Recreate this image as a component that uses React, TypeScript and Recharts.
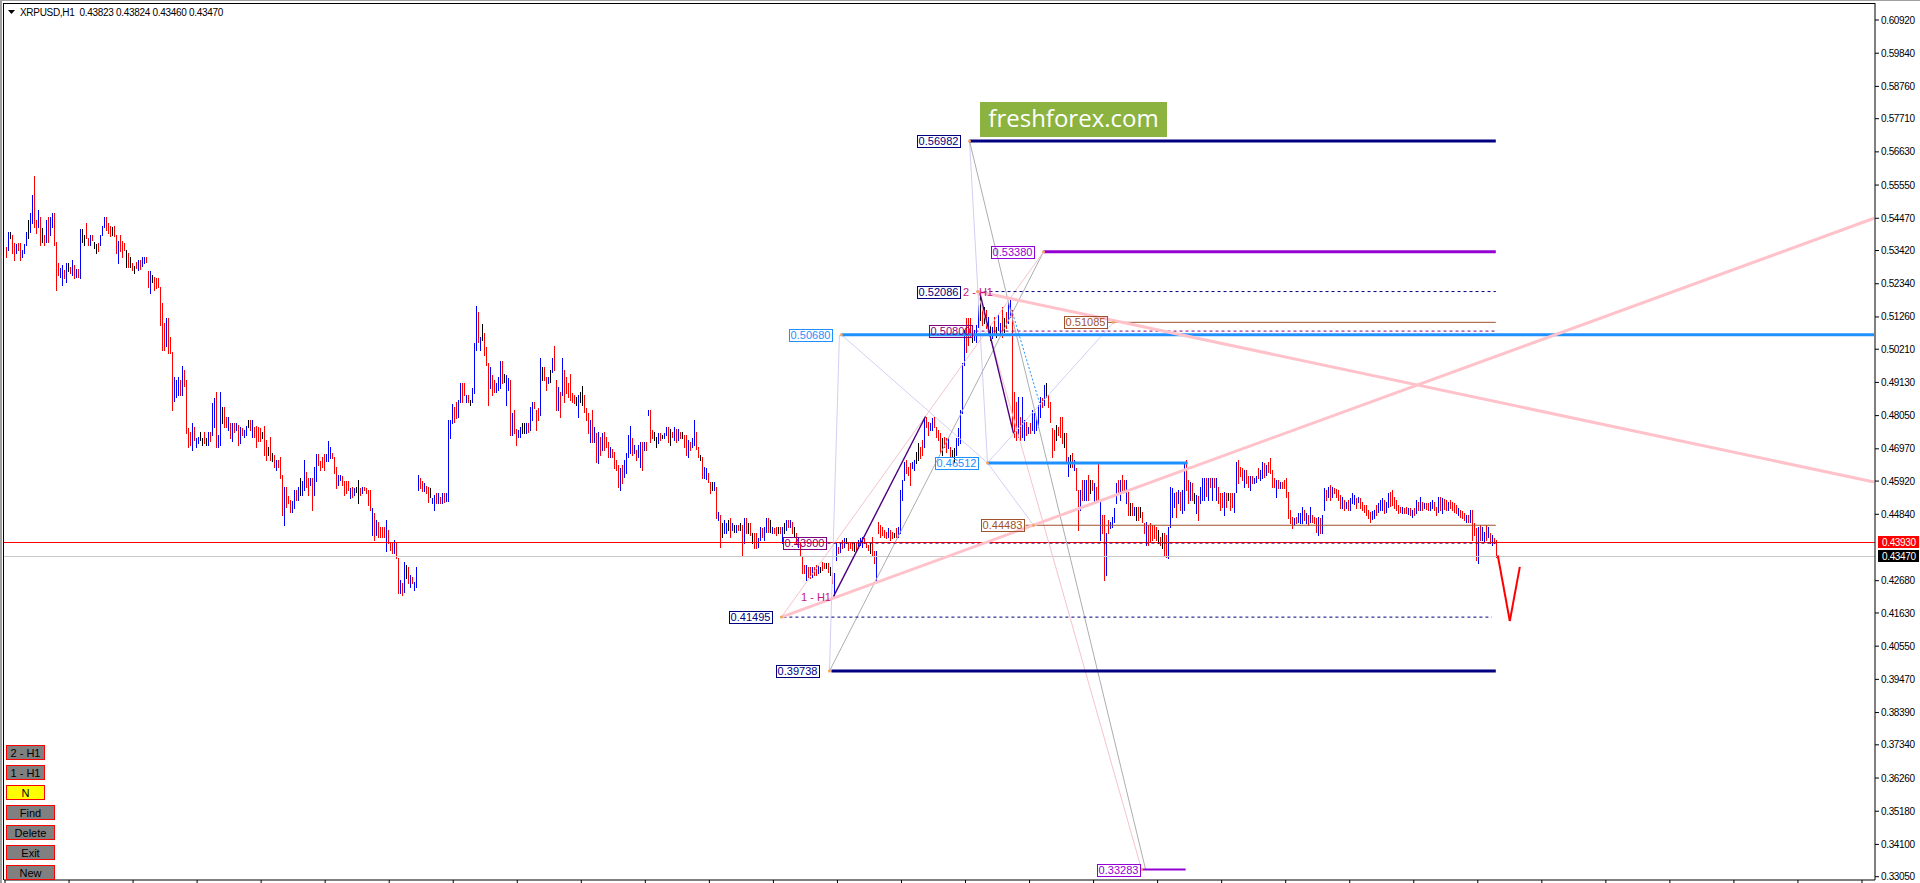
import React from "react";
import { ComposedChart, Bar, XAxis, YAxis, ReferenceLine, ReferenceDot } from "recharts";

// ---------- price bars (H1) ----------
const highs = [
.5353,.5403,.5403,.5393,.5366,.5364,.5366,.5366,.5344,.5364,
.5403,.5441,.5463,.5523,.5583,.5441,.5474,.5450,.5414,.5393,
.5441,.5450,.5450,.5463,.5463,.5371,.5301,.5285,.5295,.5279,
.5301,.5301,.5290,.5311,.5295,.5281,.5281,.5411,.5411,.5393,
.5431,.5382,.5393,.5393,.5371,.5364,.5366,.5393,.5422,.5450,
.5450,.5433,.5422,.5420,.5422,.5393,.5373,.5393,.5373,.5366,
.5344,.5333,.5322,.5301,.5292,.5306,.5311,.5311,.5320,.5320,
.5320,.5274,.5274,.5263,.5257,.5252,.5252,.5225,.5171,.5106,
.5122,.5122,.5062,.5013,.4932,.4921,.4932,.4921,.4965,.4954,
.4921,.4764,.4753,.4780,.4769,.4731,.4737,.4753,.4731,.4753,
.4731,.4753,.4753,.4845,.4862,.4883,.4742,.4883,.4834,.4834,
.4802,.4802,.4780,.4780,.4780,.4780,.4775,.4769,.4764,.4759,
.4772,.4791,.4791,.4791,.4769,.4772,.4769,.4764,.4753,.4772,
.4726,.4704,.4734,.4683,.4677,.4661,.4661,.4672,.4612,.4574,
.4574,.4542,.4531,.4526,.4563,.4563,.4574,.4601,.4591,.4661,
.4623,.4601,.4601,.4601,.4639,.4681,.4681,.4656,.4672,.4681,
.4681,.4723,.4704,.4683,.4672,.4639,.4612,.4612,.4607,.4591,
.4591,.4591,.4569,.4574,.4569,.4574,.4594,.4569,.4574,.4574,
.4569,.4563,.4563,.4504,.4487,.4466,.4460,.4444,.4444,.4444,
.4466,.4433,.4395,.4390,.4401,.4395,.4341,.4270,.4259,.4330,
.4319,.4314,.4286,.4281,.4265,.4314,.4612,.4601,
.4592,.4585,.4576,.4574,.4568,.4536,.4547,.4552,.4552,.4541,
.4552,.4552,.4552,.4791,.4791,.4843,.4834,.4850,.4856,.4910,
.4910,.4910,.4872,.4872,.4856,.4894,.5040,.5162,.5143,.5062,
.5103,.5073,.5029,.4975,.4964,.4937,.4921,.4910,.4932,.4984,
.4984,.4942,.4937,.4926,.4921,.4812,.4823,.4763,.4758,.4769,
.4780,.4780,.4780,.4780,.4834,.4850,.4850,.4823,.4829,.4991,
.4964,.4964,.4932,.4932,.4953,.4991,.5031,.4921,.4899,.4883,
.4991,.4953,.4932,.4910,.4939,.4877,.4872,.4867,.4872,.4883,
.4901,.4872,.4829,.4812,.4791,.4823,.4769,.4747,.4753,.4736,
.4747,.4753,.4736,.4720,.4704,.4698,.4688,.4660,.4644,.4633,
.4644,.4660,.4682,.4742,.4771,.4731,.4709,.4693,.4709,.4720,
.4720,.4720,.4720,.4823,.4823,.4758,.4753,.4736,.4747,.4747,
.4742,.4747,.4769,.4769,.4763,.4753,.4769,.4763,.4763,.4753,
.4753,.4742,.4742,.4726,.4720,.4731,.4791,.4753,.4704,.4677,
.4671,.4639,.4633,.4617,.4590,.4590,.4590,.4574,.4493,.4482,
.4455,.4465,.4455,.4465,.4471,.4455,.4449,.4449,.4449,.4455,
.4449,.4471,.4471,.4455,.4455,.4422,.4422,.4422,.4406,.4444,
.4438,.4444,.4471,.4471,.4465,.4444,.4438,.4444,.4444,.4444,
.4444,.4455,.4465,.4465,.4465,.4460,.4444,.4422,.4411,.4390,
.4346,.4319,.4319,.4314,.4314,.4314,.4314,.4319,.4319,.4314,
.4330,.4327,.4325,.4325,.4314,.4297,.4292,.4390,.4379,.4390,
.4401,.4406,.4406,.4395,.4395,.4395,.4390,.4395,.4401,.4406,
.4411,.4406,.4395,.4384,.4390,.4411,.4363,.4363,.4460,.4449,
.4444,.4433,.4428,.4439,.4433,.4428,.4422,.4439,.4444,.4563,
.4596,.4655,.4661,.4639,.4650,.4655,.4661,.4688,.4715,.4704,
.4726,.4796,.4802,.4785,.4780,.4796,.4802,.4769,.4758,.4748,
.4731,.4737,.4731,.4731,.4704,.4693,.4699,.4731,.4764,.4823,
.4975,.5084,.5122,.5122,.5122,.5089,.5084,.5100,.5165,.5209,
.5154,.5159,.5149,.5127,.5100,.5094,.5127,.5094,.5132,.5105,
.5159,.5122,.5143,.5170,.5181,.5149,.4883,.4850,.4867,.4802,
.4867,.4791,.4785,.4769,.4780,.4823,.4812,.4802,.4840,.4867,
.4861,.4905,.4910,.4872,.4850,.4764,.4758,.4775,.4769,.4802,
.4802,.4748,.4748,.4672,.4677,.4682,.4661,.4634,.4563,.4563,
.4596,.4596,.4596,.4612,.4596,.4596,.4585,.4574,.4655,.4531,
.4482,.4482,.4422,.4466,.4460,.4476,.4504,.4585,.4596,.4596,
.4612,.4596,.4596,.4558,.4520,.4520,.4509,.4509,.4509,.4509,
.4493,.4455,.4460,.4449,.4455,.4449,.4449,.4444,.4433,.4411,
.4422,.4422,.4417,.4444,.4574,.4569,.4553,.4558,.4563,.4558,
.4563,.4655,.4661,.4596,.4590,.4585,.4553,.4547,.4542,.4574,
.4601,.4601,.4601,.4601,.4601,.4601,.4601,.4601,.4574,.4553,
.4553,.4558,.4553,.4553,.4553,.4553,.4553,.4655,.4661,.4639,
.4634,.4628,.4628,.4607,.4607,.4607,.4601,.4607,.4634,.4628,
.4655,.4650,.4644,.4655,.4666,.4628,.4601,.4596,.4596,.4590,
.4590,.4596,.4601,.4558,.4498,.4476,.4471,.4476,.4487,.4487,
.4509,.4498,.4487,.4482,.4509,.4482,.4476,.4471,.4476,.4471,
.4482,.4569,.4563,.4574,.4579,.4574,.4569,.4566,.4563,.4547,
.4541,.4530,.4525,.4530,.4536,.4552,.4548,.4536,.4541,.4536,
.4525,.4514,.4514,.4498,.4493,.4495,.4498,.4514,.4520,.4530,
.4536,.4530,.4525,.4552,.4556,.4563,.4541,.4530,.4514,.4509,
.4509,.4504,.4509,.4506,.4504,.4498,.4504,.4530,.4525,.4541,
.4525,.4520,.4522,.4520,.4525,.4530,.4525,.4509,.4541,.4541,
.4536,.4533,.4530,.4525,.4530,.4525,.4520,.4514,.4504,.4498,
.4495,.4487,.4482,.4482,.4498,.4498,.4455,.4439,.4444,.4449,
.4444,.4428,.4449,.4444,.4422,.4417,.4406,.4401,
];

const lows = [
.5320,.5344,.5382,.5333,.5311,.5333,.5344,.5311,.5320,.5333,
.5360,.5382,.5403,.5431,.5420,.5400,.5420,.5360,.5371,.5360,
.5371,.5371,.5393,.5420,.5360,.5214,.5263,.5257,.5230,.5252,
.5241,.5274,.5268,.5263,.5252,.5255,.5257,.5252,.5371,.5360,
.5382,.5360,.5360,.5376,.5349,.5333,.5342,.5360,.5393,.5420,
.5409,.5398,.5389,.5393,.5389,.5333,.5301,.5339,.5322,.5344,
.5290,.5290,.5290,.5279,.5270,.5285,.5279,.5281,.5292,.5301,
.5306,.5225,.5203,.5241,.5214,.5219,.5225,.5100,.5019,.5019,
.5030,.5008,.5008,.4824,.4851,.4867,.4872,.4872,.4872,.4900,
.4748,.4704,.4710,.4694,.4726,.4704,.4715,.4726,.4710,.4715,
.4710,.4710,.4721,.4742,.4769,.4704,.4704,.4710,.4780,.4769,
.4769,.4759,.4731,.4721,.4753,.4759,.4710,.4715,.4742,.4737,
.4742,.4769,.4759,.4737,.4737,.4702,.4721,.4721,.4731,.4677,
.4661,.4677,.4661,.4656,.4639,.4629,.4639,.4601,.4482,.4450,
.4509,.4520,.4493,.4493,.4504,.4531,.4531,.4547,.4547,.4563,
.4574,.4547,.4580,.4498,.4547,.4591,.4645,.4629,.4639,.4629,
.4656,.4656,.4667,.4667,.4618,.4569,.4580,.4596,.4580,.4547,
.4553,.4563,.4536,.4540,.4547,.4558,.4520,.4547,.4553,.4563,
.4553,.4515,.4498,.4417,.4401,.4417,.4411,.4411,.4411,.4411,
.4363,.4390,.4368,.4357,.4357,.4341,.4227,.4227,.4221,.4232,
.4276,.4259,.4249,.4259,.4238,.4249,.4563,.4569,
.4561,.4561,.4552,.4525,.4541,.4520,.4498,.4520,.4522,.4520,
.4522,.4525,.4528,.4528,.4731,.4780,.4785,.4796,.4799,.4850,
.4850,.4872,.4850,.4850,.4839,.4850,.4877,.5018,.5046,.5018,
.5051,.5002,.4970,.4839,.4894,.4872,.4883,.4883,.4888,.4894,
.4910,.4915,.4839,.4888,.4742,.4742,.4747,.4709,.4736,.4736,
.4747,.4747,.4749,.4753,.4758,.4791,.4829,.4758,.4791,.4807,
.4921,.4921,.4888,.4910,.4915,.4948,.4953,.4823,.4823,.4801,
.4872,.4850,.4877,.4867,.4856,.4850,.4845,.4839,.4799,.4850,
.4839,.4818,.4791,.4747,.4720,.4720,.4720,.4655,.4650,.4677,
.4693,.4693,.4704,.4671,.4671,.4671,.4633,.4628,.4574,.4563,
.4585,.4606,.4617,.4671,.4682,.4677,.4682,.4660,.4671,.4639,
.4628,.4693,.4693,.4807,.4720,.4731,.4726,.4704,.4715,.4726,
.4731,.4731,.4742,.4720,.4709,.4736,.4726,.4720,.4726,.4731,
.4731,.4704,.4677,.4671,.4693,.4704,.4709,.4698,.4671,.4660,
.4601,.4601,.4598,.4590,.4552,.4563,.4563,.4471,.4465,.4379,
.4411,.4422,.4422,.4433,.4411,.4433,.4427,.4427,.4433,.4433,
.4352,.4390,.4422,.4422,.4417,.4390,.4373,.4373,.4379,.4400,
.4411,.4400,.4427,.4427,.4427,.4422,.4422,.4417,.4422,.4422,
.4390,.4422,.4433,.4444,.4444,.4422,.4411,.4390,.4379,.4352,
.4292,.4292,.4270,.4281,.4276,.4281,.4287,.4287,.4292,.4297,
.4303,.4308,.4308,.4297,.4287,.4259,.4216,.4335,.4357,.4362,
.4374,.4379,.4390,.4368,.4374,.4368,.4363,.4368,.4374,.4384,
.4379,.4390,.4379,.4368,.4357,.4352,.4325,.4271,.4422,.4411,
.4417,.4411,.4406,.4411,.4401,.4406,.4411,.4411,.4411,.4422,
.4531,.4596,.4617,.4612,.4580,.4634,.4628,.4650,.4661,.4666,
.4677,.4704,.4769,.4742,.4758,.4758,.4769,.4737,.4726,.4688,
.4677,.4704,.4688,.4699,.4672,.4672,.4655,.4677,.4710,.4715,
.4812,.4970,.5013,.5035,.5062,.5046,.5051,.5046,.5094,.5116,
.5100,.5105,.5089,.5073,.5051,.5057,.5067,.5062,.5084,.5067,
.5062,.5078,.5089,.5105,.5127,.4769,.4737,.4726,.4737,.4726,
.4737,.4726,.4742,.4748,.4748,.4758,.4748,.4758,.4769,.4802,
.4834,.4840,.4867,.4834,.4785,.4672,.4693,.4726,.4742,.4737,
.4715,.4704,.4650,.4607,.4639,.4639,.4628,.4563,.4433,.4498,
.4531,.4531,.4531,.4531,.4553,.4563,.4525,.4531,.4531,.4401,
.4422,.4271,.4287,.4422,.4439,.4444,.4460,.4520,.4558,.4531,
.4558,.4558,.4520,.4482,.4482,.4482,.4482,.4466,.4466,.4476,
.4460,.4422,.4384,.4384,.4395,.4401,.4406,.4401,.4390,.4384,
.4374,.4352,.4346,.4341,.4444,.4476,.4509,.4476,.4520,.4498,
.4487,.4498,.4563,.4520,.4531,.4531,.4520,.4487,.4466,.4520,
.4531,.4531,.4542,.4531,.4574,.4531,.4574,.4531,.4520,.4498,
.4509,.4482,.4509,.4531,.4498,.4509,.4493,.4558,.4585,.4607,
.4596,.4574,.4585,.4574,.4563,.4585,.4585,.4590,.4601,.4596,
.4601,.4606,.4612,.4623,.4617,.4574,.4574,.4541,.4569,.4569,
.4569,.4569,.4541,.4471,.4455,.4439,.4449,.4455,.4460,.4455,
.4455,.4466,.4455,.4449,.4460,.4460,.4455,.4428,.4417,.4422,
.4422,.4498,.4530,.4541,.4530,.4541,.4552,.4540,.4530,.4504,
.4504,.4498,.4504,.4498,.4498,.4520,.4518,.4504,.4525,.4504,
.4498,.4493,.4482,.4471,.4460,.4470,.4471,.4482,.4493,.4498,
.4498,.4487,.4493,.4509,.4512,.4514,.4504,.4498,.4487,.4493,
.4487,.4487,.4487,.4485,.4482,.4476,.4482,.4487,.4498,.4498,
.4498,.4504,.4500,.4498,.4498,.4504,.4498,.4482,.4493,.4498,
.4487,.4500,.4498,.4498,.4504,.4498,.4493,.4487,.4482,.4476,
.4472,.4466,.4460,.4460,.4460,.4401,.4417,.4336,.4325,.4401,
.4401,.4395,.4401,.4411,.4390,.4384,.4390,.4346,
];

// b = up bar (blue), r = down bar (red), k = unchanged (black)
const barDirs = [
"rbkrrbrrbb","bkbbrrbrkr","brbbrrrbbr","bkrbrbrbkk","rrbrkkrbbb","rrrkrrbrrr","krkrkrbrbb",
"rrbkrrrrrr","brrrbbbrbr","rrrbrbbkkr","kbrbbrbbkr","rbrbrbrbrb","bkrbrrrrkr","rkrkrbrrrb",
"rrrbbrbkbb","rrbrbbrrrr","bbbrrrbbrr","rrbrbkkrbr","rrrbrbrrrr","brrrbrrbrb","krbrbbbr",
"rbrrkbbrbr","brbbbbrrbb","rrbrkbbbrb","krrrbrrbbb","rkbbrbrrbb","kkbrbbrrrb","krrbkbrrbr",
"brrrrrrkbk","krrrbrbrbr","brrrbrrrrb","rbbbbrbrbb","rbrbrrkkbr","kbbrkrbrbr","krrbrbbrrk",
"rbbrrkbrbr","kbbkrbkbrk","rbrkrkrrbb","rbbrkbrrkr","bkbrbrkrbr","rrbrrbrrbk","rrkrkrbbrb",
"rbkrrrkrbb","brrrkrrbrr","rrrbrrkrbb","bbrrrbbkkr","rbrrbbrrrr","krrbrkkbbb","bbrrrkbbbk",
"rkrbkbrkbb","rkrbbrrrbr","bbrbrbbbbb","rbkrrrrkrr","rkrbkrbrrb","rbbrkrbrrb","rrbrbbbbrb",
"rrbrkrbkrk","rrbrrrrrkr","krrbbbbrbr","bbrrbrkbrb","bbrbrbrbrr","rbrkrrbbrr","rbrrbrbbrb",
"brbrrrrbrb","rrrrrrbrbb","brbrbrrrbr","bbrbrbrrrr","brbrbbbrbr","rrrrrbbrbb","brbbrrrrrr",
"brrbrbrbrb","rbrrbbrrbr","brrbrrrrbr","rrbrbrrrbr","bbrbrbrr",
].join("");

const SLOT_COUNT = 935; // bar slots from the left edge to the price scale

// ---------- axes ----------
const priceTicks = [0.6092, 0.5984, 0.5876, 0.5771, 0.5663, 0.5555, 0.5447, 0.5342, 0.5234, 0.5126,
  0.5021, 0.4913, 0.4805, 0.4697, 0.4592, 0.4484, 0.4268, 0.4163, 0.4055, 0.3947, 0.3839,
  0.3734, 0.3626, 0.3518, 0.341, 0.3305];
const timeTickSlots = [0, 32, 64, 96, 128, 160, 192, 224, 256, 288, 320, 352, 384, 416, 448, 480,
  512, 544, 576, 608, 640, 672, 704, 736, 768, 800, 832, 864, 896, 928];
const priceDomain = [0.32943, 0.61473];
const markerPrice = 0.4393;
const bidPrice = 0.4347;

// ---------- drawn objects ----------
const levelPrices = [0.56982, 0.5338, 0.52086, 0.51085, 0.508, 0.5068, 0.46512, 0.44483, 0.439, 0.41495, 0.39738, 0.33283];
const levelStart = [482, 519, 486, 551, 485, 418, 491, 510, 411, 389, 413, 568];
const levelEnd = [745, 745, 745, 745, 745, 934, 591, 745, 745, 743, 745, 590];

const thinFrom = [[417, 0.5068], [418, 0.5068], [491, 0.46512], [482, 0.56982], [491, 0.46512],
  [482, 0.56982], [412, 0.39738], [388, 0.41495], [486, 0.52086], [414, 0.4216], [487, 0.5209], [503, 0.515]];
const thinTo = [[412, 0.39738], [491, 0.46512], [554, 0.51085], [491, 0.46512], [514, 0.44483],
  [570, 0.33283], [519, 0.5338], [519, 0.5338], [568, 0.33283], [460, 0.4802], [504, 0.4747], [517, 0.4846]];

const trendFrom = [[388, 0.41495], [486, 0.52086]];
const trendTo = [[934, 0.5447], [934, 0.4589]];

const projection = [[746, 0.435], [752, 0.4137], [757, 0.4313]];

const pivots = [[482, 0.56982], [519, 0.5338], [554, 0.51085], [418, 0.5068], [491, 0.46512],
  [412, 0.39738], [388, 0.41495], [514, 0.44483], [486, 0.52086], [568, 0.33283]];

// wave marks: text, anchor slot, anchor price
const waveText = ["1 - H1", "2 - H1"];
const waveAt = [[414, 0.4216], [486, 0.52086]];

const buttonLabels = ["2 - H1", "1 - H1", "N", "Find", "Delete", "Exit", "New"];

// ---------- styles ----------
const FONT = "'Liberation Sans', Arial, sans-serif";
const BAR_COLOR: Record<string, string> = { b: "#0000FF", r: "#FF0000", k: "#000000" };
const levelLook = [
  { color: "#000080", width: 3, gap: 10 },
  { color: "#9400D3", width: 3, gap: 10 },
  { color: "#000080", width: 1, dash: "3 3", gap: 18 },
  { color: "#A0522D", width: 1, gap: 1 },
  { color: "#800080", width: 1, dash: "3 3", gap: 4 },
  { color: "#1E90FF", width: 3, gap: 9 },
  { color: "#1E90FF", width: 3, gap: 10 },
  { color: "#A0522D", width: 1, gap: 2 },
  { color: "#800080", line: "#3A1070", width: 1, dash: "3 3", gap: 1 },
  { color: "#000080", width: 1, dash: "3 3", gap: 11 },
  { color: "#000080", width: 3, gap: 12 },
  { color: "#9400D3", width: 2, gap: 2 },
];
// wave text placement: [anchor, dx]
const waveLook = [{ anchor: "end", dx: -2 }, { anchor: "start", dx: -15 }];
const thinLook = [
  { c: "#D4CEF4", w: 1 }, { c: "#D4CEF4", w: 1 }, { c: "#D4CEF4", w: 1 }, { c: "#D4CEF4", w: 1 }, { c: "#D4CEF4", w: 1 },
  { c: "#ADADAD", w: 1 }, { c: "#ADADAD", w: 1 },
  { c: "#F4C4CA", w: 1 }, { c: "#F4C4CA", w: 1 },
  { c: "#4B0082", w: 1.4 }, { c: "#4B0082", w: 1.4 },
  { c: "#1E90FF", w: 1, d: "2 2" },
];

const data = Array.from({ length: SLOT_COUNT }, (_, i) =>
  i < highs.length && i < lows.length
    ? { i, range: [lows[i], highs[i]], dir: barDirs[i] }
    : { i, range: null, dir: "" }
);

function Stick(props: any) {
  const { x, y, width, height, payload } = props;
  if (!payload || !payload.range || !isFinite(y) || !isFinite(height)) return null;
  const cx = Math.round(x + width / 2);
  const top = Math.round(Math.min(y, y + height));
  const bot = Math.round(Math.max(y, y + height));
  return <rect x={cx} y={top} width={1} height={Math.max(1, bot - top + 1)} fill={BAR_COLOR[payload.dir] || "#000"} shapeRendering="crispEdges" />;
}

const levelTag = (text: string, color: string, gap: number) => (p: any) => {
  if (!isFinite(p.cx) || !isFinite(p.cy)) return null;
  const right = Math.round(p.cx) - gap;
  const cy = Math.round(p.cy);
  return (
    <g>
      <rect x={right - 43 + 0.5} y={cy - 6 + 0.5} width={43} height={12} fill="none" stroke={color} strokeWidth={1} />
      <text x={right - 21.5} y={cy + 4} textAnchor="middle" fontFamily={FONT} fontSize={11} fill={color}>{text}</text>
    </g>
  );
};

const axisTag = (text: string, bg: string) => (p: any) => {
  if (!isFinite(p.cx) || !isFinite(p.cy)) return null;
  const x = Math.round(p.cx) + 4;
  const cy = Math.round(p.cy);
  return (
    <g>
      <rect x={x} y={cy - 6} width={41} height={12} fill={bg} />
      <text x={x + 4} y={cy + 4} fontFamily={FONT} fontSize={10} letterSpacing={-0.35} fill="#FFFFFF">{text}</text>
    </g>
  );
};

const waveLabel = (text: string, anchor: string, dx: number) => (p: any) => {
  if (!isFinite(p.cx) || !isFinite(p.cy)) return null;
  return (
    <text x={Math.round(p.cx) + dx} y={Math.round(p.cy) + 4} textAnchor={anchor} fontFamily={FONT} fontSize={11} fill="#C71585">{text}</text>
  );
};

export default function App() {
  return (
    <div style={{ position: "absolute", left: 0, top: 0, width: 1920, height: 883, background: "#fff", overflow: "hidden" }}>
      <ComposedChart width={1920} height={883} data={data} margin={{ top: 3, right: 0, bottom: 0, left: 4 }}>
        <XAxis dataKey="i" type="category" height={3} ticks={timeTickSlots} interval={0} tickSize={3}
          tickLine={{ stroke: "#000" }} axisLine={{ stroke: "#000" }} tickFormatter={() => ""} />
        <YAxis orientation="right" type="number" domain={priceDomain} allowDataOverflow ticks={priceTicks} interval={0}
          width={45} tickSize={4} tickMargin={2} axisLine={{ stroke: "#000" }} tickLine={{ stroke: "#000" }}
          tick={{ fill: "#000", fontSize: 10, fontFamily: FONT, letterSpacing: -0.35 }}
          tickFormatter={(v: number) => v.toFixed(5)} />

        <ReferenceLine y={bidPrice} stroke="#C8C8C8" strokeWidth={1} shapeRendering="crispEdges" />

        <Bar dataKey="range" barSize={1} isAnimationActive={false} shape={<Stick />} />

        <ReferenceLine y={markerPrice} stroke="#FF0000" strokeWidth={1} shapeRendering="crispEdges" />

        {thinFrom.map((a, k) => (
          <ReferenceLine key={"t" + k} ifOverflow="visible"
            segment={[{ x: a[0], y: a[1] }, { x: thinTo[k][0], y: thinTo[k][1] }]}
            stroke={thinLook[k].c} strokeWidth={thinLook[k].w} strokeDasharray={thinLook[k].d} />
        ))}

        {levelPrices.map((p, k) => (
          <ReferenceLine key={"l" + k} ifOverflow="visible"
            segment={[{ x: levelStart[k], y: p }, { x: levelEnd[k], y: p }]}
            stroke={levelLook[k].line || levelLook[k].color} strokeWidth={levelLook[k].width}
            strokeDasharray={levelLook[k].dash} />
        ))}

        {trendFrom.map((a, k) => (
          <ReferenceLine key={"p" + k} ifOverflow="visible"
            segment={[{ x: a[0], y: a[1] }, { x: trendTo[k][0], y: trendTo[k][1] }]}
            stroke="#FFC2CA" strokeWidth={3} />
        ))}

        {projection.slice(1).map((b, k) => (
          <ReferenceLine key={"v" + k} ifOverflow="visible"
            segment={[{ x: projection[k][0], y: projection[k][1] }, { x: b[0], y: b[1] }]}
            stroke="#FF0000" strokeWidth={2} />
        ))}

        {pivots.map((p, k) => (
          <ReferenceDot key={"d" + k} x={p[0]} y={p[1]} r={1.5} fill="#F4A460" stroke="none" ifOverflow="visible" />
        ))}

        {levelPrices.map((p, k) => (
          <ReferenceDot key={"g" + k} x={levelStart[k]} y={p} r={1} ifOverflow="visible"
            shape={levelTag(p.toFixed(5), levelLook[k].color, levelLook[k].gap)} />
        ))}

        {waveText.map((t, k) => (
          <ReferenceDot key={"w" + k} x={waveAt[k][0]} y={waveAt[k][1]} r={1} ifOverflow="visible"
            shape={waveLabel(t, waveLook[k].anchor, waveLook[k].dx)} />
        ))}

        <ReferenceDot x={SLOT_COUNT - 1} y={markerPrice} r={1} ifOverflow="visible" shape={axisTag("0.43930", "#FF0000")} />
        <ReferenceDot x={SLOT_COUNT - 1} y={bidPrice} r={1} ifOverflow="visible" shape={axisTag("0.43470", "#000000")} />
      </ComposedChart>

      <svg width={1920} height={883} style={{ position: "absolute", left: 0, top: 0, pointerEvents: "none" }}>
        <rect x={0} y={0} width={2} height={883} fill="#A0A0A0" />
        <rect x={0} y={0} width={1920} height={1} fill="#A0A0A0" />
        <rect x={3} y={3} width={1} height={877} fill="#000" />
        <rect x={3} y={3} width={1872} height={1} fill="#000" />
        <polygon points="8,10 15,10 11.5,14" fill="#000" />
        <text x={20} y={15.5} fontFamily={FONT} fontSize={10} letterSpacing={-0.3} fill="#000" style={{ whiteSpace: "pre" }}>
          {"XRPUSD,H1  0.43823 0.43824 0.43460 0.43470"}
        </text>
        <rect x={980} y={102} width={187} height={35} fill="#8CB33F" />
        <text x={1073.5} y={127} textAnchor="middle" fontFamily="'Open Sans', sans-serif" fontSize={24} fill="#FFFFFF">freshforex.com</text>
        {buttonLabels.map((b, k) => {
          const w = k < 3 ? 38 : 48;
          const y = 745 + k * 20;
          return (
            <g key={b}>
              <rect x={6.5} y={y + 0.5} width={w} height={14} fill={b === "N" ? "#FFFF00" : "#808080"} stroke="#FF0000" strokeWidth={1} />
              <text x={6.5 + w / 2} y={y + 12} textAnchor="middle" fontFamily={FONT} fontSize={11} fill="#000">{b}</text>
            </g>
          );
        })}
      </svg>
    </div>
  );
}
